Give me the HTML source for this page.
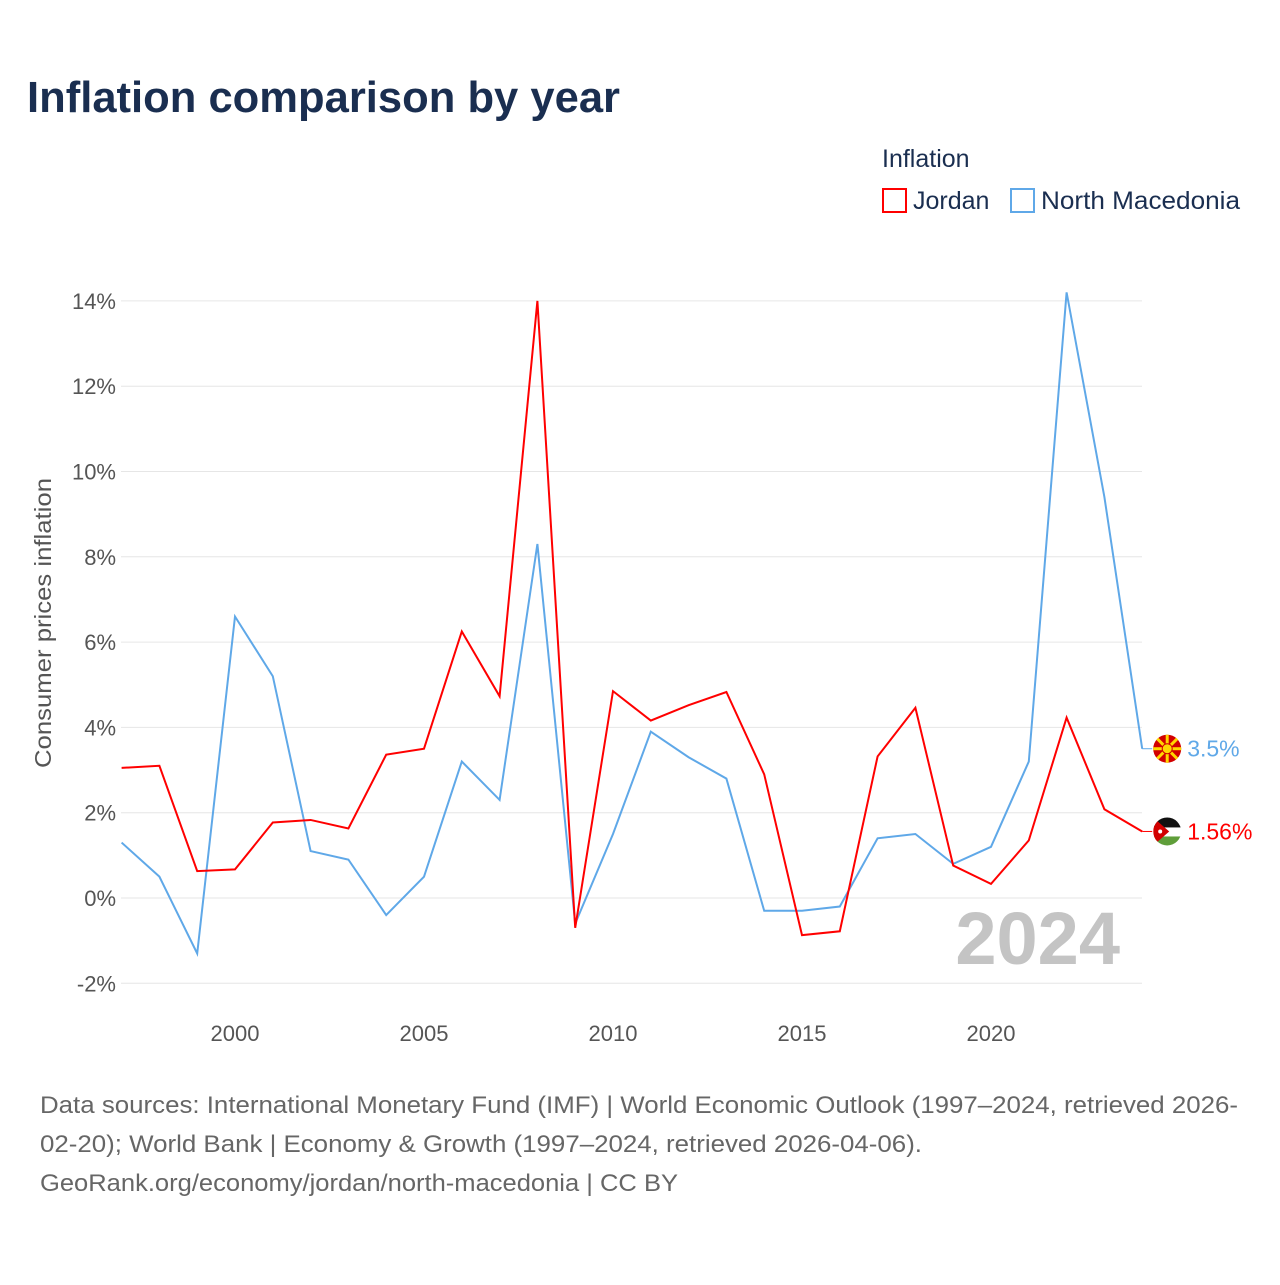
<!DOCTYPE html>
<html><head><meta charset="utf-8"><style>
body{margin:0;background:#fff;font-family:"Liberation Sans",sans-serif}
svg text{font-family:"Liberation Sans",sans-serif}
</style></head><body>
<svg id="chart" width="1280" height="1280" viewBox="0 0 1280 1280">
<defs><clipPath id="jclip"><circle id="jc" cx="0" cy="0" r="14"/></clipPath></defs>
<text x="27" y="112" font-size="44" font-weight="bold" fill="#1a2e50" textLength="593" lengthAdjust="spacingAndGlyphs">Inflation comparison by year</text>
<text x="882" y="167" font-size="25" fill="#1a2e50">Inflation</text>
<g><rect x="883" y="189" width="23" height="23" fill="none" stroke="#f00" stroke-width="2"/><text x="913" y="209" font-size="25" fill="#1a2e50">Jordan</text></g>
<g><rect x="1011" y="189" width="23" height="23" fill="none" stroke="#5fa8e8" stroke-width="2"/><text x="1041" y="209" font-size="25" fill="#1a2e50" textLength="199" lengthAdjust="spacingAndGlyphs">North Macedonia</text></g>
<g id="grid"></g><g id="yticks"></g><g id="xticks"></g>
<text transform="translate(51,623) rotate(-90)" text-anchor="middle" font-size="23" fill="#555" textLength="290" lengthAdjust="spacingAndGlyphs">Consumer prices inflation</text>
<text x="1120" y="964" text-anchor="end" font-size="74" font-weight="bold" fill="#c4c4c4">2024</text>
<g id="series"></g>
<text x="40" y="1113" font-size="24" fill="#666" textLength="1198" lengthAdjust="spacingAndGlyphs">Data sources: International Monetary Fund (IMF) | World Economic Outlook (1997–2024, retrieved 2026-</text>
<text x="40" y="1152" font-size="24" fill="#666" textLength="882" lengthAdjust="spacingAndGlyphs">02-20); World Bank | Economy &amp; Growth (1997–2024, retrieved 2026-04-06).</text>
<text x="40" y="1191" font-size="24" fill="#666" textLength="638" lengthAdjust="spacingAndGlyphs">GeoRank.org/economy/jordan/north-macedonia | CC BY</text>
</svg>
<script>
const years=[1997,1998,1999,2000,2001,2002,2003,2004,2005,2006,2007,2008,2009,2010,2011,2012,2013,2014,2015,2016,2017,2018,2019,2020,2021,2022,2023,2024];
const jordan=[3.05,3.1,0.63,0.67,1.77,1.83,1.63,3.36,3.5,6.25,4.73,14.0,-0.7,4.85,4.16,4.52,4.83,2.9,-0.87,-0.78,3.32,4.46,0.76,0.33,1.35,4.23,2.08,1.56];
const macedonia=[1.3,0.5,-1.3,6.6,5.2,1.1,0.9,-0.4,0.5,3.2,2.3,8.3,-0.6,1.5,3.9,3.3,2.8,-0.3,-0.3,-0.2,1.4,1.5,0.8,1.2,3.2,14.2,9.4,3.5];
const yTicks=[-2,0,2,4,6,8,10,12,14];
const xTicks=[2000,2005,2010,2015,2020];
const NS='http://www.w3.org/2000/svg';
const x=v=>121.6+(v-1997)*37.8;
const y=v=>898-v*42.65;
function mk(t,a,p){const e=document.createElementNS(NS,t);for(const k in a)e.setAttribute(k,a[k]);p.appendChild(e);return e;}
const grid=document.getElementById('grid'),yt=document.getElementById('yticks'),xt=document.getElementById('xticks'),ser=document.getElementById('series');
yTicks.forEach(v=>{
 const l=mk('line',{x1:121,x2:1142,y1:y(v),y2:y(v),stroke:'#e6e6e6','stroke-width':1},grid);
 
 
 const t=mk('text',{x:116,y:y(v)+8,'text-anchor':'end','font-size':22,fill:'#555'},yt);
 t.textContent=v+'%';
 
 
});
xTicks.forEach(v=>{
 const t=mk('text',{x:x(v),y:1041,'text-anchor':'middle','font-size':22,fill:'#555'},xt);
 t.textContent=v;
 
 
});
function line(data,color,name,label){
 const pts=data.map((v,i)=>x(years[i])+','+y(v)).join(' ');
 const p=mk('polyline',{points:pts,fill:'none',stroke:color,'stroke-width':2},ser);
 
 
 const last=data[data.length-1],lx=x(years[years.length-1]),ly=y(last);
 mk('line',{x1:lx,x2:lx+10,y1:ly,y2:ly,stroke:color,'stroke-width':1},ser);
 const cx=lx+25;
 if(name.includes('jordan')){
  const g=mk('g',{transform:`translate(${cx},${ly})`},ser);
  
  
  const gi=mk('g',{'clip-path':'url(#jclip)'},g);
  mk('rect',{x:-14,y:-14,width:28,height:10,fill:'#111'},gi);
  mk('rect',{x:-14,y:-4,width:28,height:9,fill:'#fff'},gi);
  mk('rect',{x:-14,y:5,width:28,height:10,fill:'#5f9e3a'},gi);
  mk('path',{d:'M-14,-14 L2,0 L-14,14z',fill:'#d20000'},gi);
  mk('circle',{cx:-7,cy:0,r:2,fill:'#fff'},gi);
 } else {
  const c=mk('circle',{cx:cx,cy:ly,r:14,fill:'#d20000'},ser);
  
  
  for(let a=0;a<8;a++){const an=a*Math.PI/4;mk('line',{x1:cx,y1:ly,x2:cx+14*Math.cos(an),y2:ly+14*Math.sin(an),stroke:'#ffd700','stroke-width':3},ser);}
  mk('circle',{cx:cx,cy:ly,r:5,fill:'#ffd700',stroke:'#d20000','stroke-width':1},ser);
 }
 const t=mk('text',{x:lx+45,y:ly+8,'font-size':23,fill:color},ser);
 t.textContent=label(last);
 
 
}
line(macedonia,'#5fa8e8','line-north-macedonia',v=>v+'%');
line(jordan,'#f00','line-jordan',v=>v+'%');
</script>
</body></html>
